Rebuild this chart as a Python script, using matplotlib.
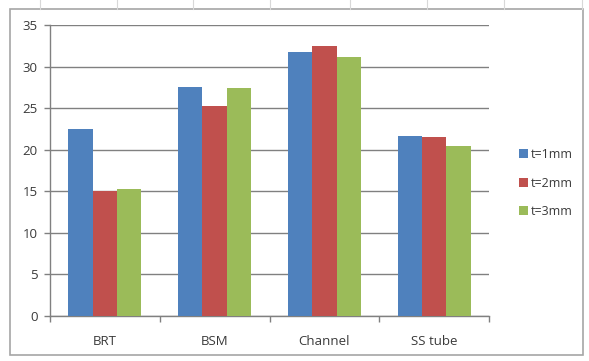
import matplotlib
matplotlib.use("Agg")
import matplotlib.pyplot as plt
import numpy as np
from matplotlib.patches import Rectangle
from matplotlib.lines import Line2D

categories = ["BRT", "BSM", "Channel", "SS tube"]
series_names = ["t=1mm", "t=2mm", "t=3mm"]
t1 = [22.5, 27.5, 31.8, 21.6]
t2 = [15.0, 25.3, 32.5, 21.5]
t3 = [15.3, 27.4, 31.2, 20.5]
y_ticks = [0, 5, 10, 15, 20, 25, 30, 35]

colors = ["#4F81BD", "#C0504D", "#9BBB59"]

W, H = 589, 361
fig = plt.figure(figsize=(W / 100, H / 100), dpi=100)
fig.patch.set_facecolor("white")

# faint spreadsheet cell lines outside chart
for xc in [40, 117, 193, 270, 350, 427, 504, 582]:
    fig.add_artist(Line2D([xc / W, xc / W], [1 - 9 / H, 1], transform=fig.transFigure,
                          color="#d8d8d8", lw=0.8))
# chart border
fig.add_artist(Rectangle((10 / W, 1 - 355 / H), (583 - 10) / W, (355 - 9) / H,
                         transform=fig.transFigure, fill=False, edgecolor="#a6a6a6", lw=1.2))

ax = fig.add_axes([50 / W, 45 / H, 439 / W, 291 / H])
x = np.arange(len(categories))
w = 1 / 4.5
for i, (vals, name) in enumerate(zip([t1, t2, t3], series_names)):
    ax.bar(x + (i - 1) * w, vals, width=w, color=colors[i], label=name, zorder=3)

ax.set_xlim(-0.5, len(categories) - 0.5)
ax.set_ylim(0, 35)
ax.set_yticks(y_ticks)
ax.set_yticklabels([str(v) for v in y_ticks])
ax.yaxis.grid(True, color="#808080", lw=1.0, zorder=0)
ax.set_axisbelow(True)

ax.set_xticks(x)
ax.set_xticklabels(categories)
ax.set_xticks(np.arange(-0.5, len(categories) + 0.5, 1), minor=True)
ax.tick_params(axis="x", which="major", length=0, pad=14)
ax.tick_params(axis="x", which="minor", length=4, color="#808080", width=1.0)
ax.tick_params(axis="y", length=4, color="#808080", width=1.0, pad=5)
for lab in ax.get_xticklabels() + ax.get_yticklabels():
    lab.set_fontfamily("Open Sans")
    lab.set_fontsize(9.5)
    lab.set_color("#3a3a3a")

for s in ["top", "right"]:
    ax.spines[s].set_visible(False)
for s in ["left", "bottom"]:
    ax.spines[s].set_color("#808080")
    ax.spines[s].set_linewidth(1.0)

handles, labels = ax.get_legend_handles_labels()
leg = fig.legend(handles, labels, loc="center left", bbox_to_anchor=(508 / W, 1 - 183 / H),
                 frameon=False, handlelength=0.7, handleheight=0.7, handletextpad=0.25,
                 labelspacing=1.25, prop={"family": "Open Sans", "size": 9})
for t in leg.get_texts():
    t.set_color("#3a3a3a")

fig.savefig("out.png", dpi=100)
